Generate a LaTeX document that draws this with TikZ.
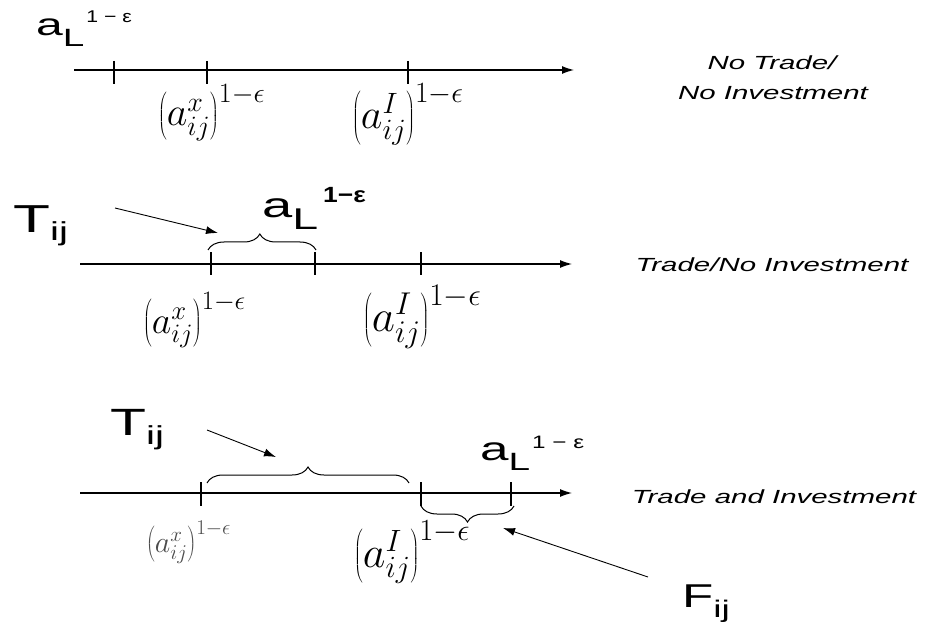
\RequirePackage{fix-cm}
\documentclass[tikz,border=0pt]{standalone}
\usepackage[no-math]{fontspec}
\newfontfamily\lsans{Liberation Sans}
\usetikzlibrary{arrows.meta,decorations.pathreplacing}
\newcommand\fs[1]{\fontsize{#1bp}{#1bp}\selectfont}
\newcommand\hs[1]{\scalebox{1.55}[1]{#1}}
\newcommand\hsup[2]{\scalebox{#1}[1]{#2}}
\tikzset{
  axis/.style={line width=1.2bp,-{Latex[length=12bp,width=8bp]}},
  tick/.style={line width=1.4bp},
  pointer/.style={line width=0.9bp,-{Latex[length=12bp,width=8bp]}},
  brc/.style={line width=1bp,decorate,decoration={brace,amplitude=16bp,aspect=#1}},
  lbl/.style={inner sep=0pt,anchor=base west},
  mlbl/.style={inner sep=0pt,anchor=base west},
  case/.style={inner sep=0pt,anchor=base,font=\lsans\itshape\fs{19}}
}
\begin{document}
\begin{tikzpicture}[x=1bp,y=-1bp]
\useasboundingbox (0,0) rectangle (932,624);
% ---------- Row 1 ----------
\coordinate (s1) at (74,70); \coordinate (e1) at (574,70);
\draw[axis] (s1) -- (e1);
\coordinate (t1a) at (114,61); \coordinate (t1b) at (114,84);
\coordinate (t1c) at (207,61); \coordinate (t1d) at (207,84);
\coordinate (t1e) at (408,61); \coordinate (t1f) at (408,84);
\draw[tick] (t1a) -- (t1b); \draw[tick] (t1c) -- (t1d); \draw[tick] (t1e) -- (t1f);
\node[lbl] (aL1) at (36,36) {\lsans\hs{\fs{31}a\raisebox{-11bp}{\fs{25}L}}\hspace{2bp}\raisebox{13bp}{\hsup{1.25}{\fs{17}1 − ε}}};
\node[mlbl] (x1) at (158,126) {\fs{40}$\left(a^x_{ij}\right)^{1-\epsilon}$};
\node[mlbl] (I1) at (352,129) {\fs{42}$\left(a^I_{ij}\right)^{1-\epsilon}$};
\node[case] (c1a) at (772,70) {\hs{No Trade/}};
\node[case] (c1b) at (773,100) {\hs{No Investment}};
% ---------- Row 2 ----------
\coordinate (s2) at (80,264); \coordinate (e2) at (572,264);
\draw[axis] (s2) -- (e2);
\coordinate (t2a) at (211,252); \coordinate (t2b) at (211,275);
\coordinate (t2c) at (315,252); \coordinate (t2d) at (315,275);
\coordinate (t2e) at (421,252); \coordinate (t2f) at (421,275);
\draw[tick] (t2a) -- (t2b); \draw[tick] (t2c) -- (t2d); \draw[tick] (t2e) -- (t2f);
\coordinate (b2a) at (208,250); \coordinate (b2b) at (316,250);
\draw[brc=0.48] (b2a) -- (b2b);
\node[lbl] (T2) at (13,233) {\lsans\hs{\fs{39}T\raisebox{-8bp}{\fs{26}ij}}};
\coordinate (p2) at (115,208); \coordinate (q2) at (218,233);
\draw[pointer] (p2) -- (q2);
\node[lbl] (aL2) at (262,218) {\lsans\hs{\fs{35}a\raisebox{-12bp}{\fs{30}L}}\hspace{5bp}\raisebox{15bp}{\hsup{1.2}{\fs{22}\bfseries 1−ε}}};
\node[mlbl] (x2) at (143,333) {\fs{38}$\left(a^x_{ij}\right)^{1-\epsilon}$};
\node[mlbl] (I2) at (363,331) {\fs{45}$\left(a^I_{ij}\right)^{1-\epsilon}$};
\node[case] (c2) at (772,272) {\hs{Trade/No Investment}};
% ---------- Row 3 ----------
\coordinate (s3) at (80,493); \coordinate (e3) at (572,493);
\draw[axis] (s3) -- (e3);
\coordinate (t3a) at (201,482); \coordinate (t3b) at (201,506);
\coordinate (t3c) at (421,482); \coordinate (t3d) at (421,506);
\coordinate (t3e) at (511,482); \coordinate (t3f) at (511,506);
\draw[tick] (t3a) -- (t3b); \draw[tick] (t3c) -- (t3d); \draw[tick] (t3e) -- (t3f);
\coordinate (b3a) at (207,483); \coordinate (b3b) at (409,483);
\draw[brc=0.5] (b3a) -- (b3b);
\coordinate (b3c) at (514,506); \coordinate (b3d) at (421,506);
\draw[brc=0.5] (b3c) -- (b3d);
\node[lbl] (T3) at (110,435) {\lsans\hs{\fs{38}T\raisebox{-9bp}{\fs{26}ij}}};
\coordinate (p3) at (207,430); \coordinate (q3) at (276,457);
\draw[pointer] (p3) -- (q3);
\node[lbl] (aL3) at (480,460) {\lsans\hs{\fs{33}a\raisebox{-10bp}{\fs{25}L}}\hspace{2bp}\raisebox{12bp}{\hsup{1.35}{\fs{18}1 − ε}}};
\node[mlbl,text=black!70] (x3) at (146,552) {\fs{30}$\left(a^x_{ij}\right)^{1-\epsilon}$};
\node[mlbl] (I3) at (354,567) {\fs{44}$\left(a^I_{ij}\right)^{1-\epsilon}$};
\node[case] (c3) at (774,503) {\hs{Trade and Investment}};
\node[lbl] (F3) at (682,607) {\lsans\hs{\fs{33}F\raisebox{-10bp}{\fs{24}ij}}};
\coordinate (p4) at (648,577); \coordinate (q4) at (503,528);
\draw[pointer] (p4) -- (q4);
\end{tikzpicture}
\end{document}
